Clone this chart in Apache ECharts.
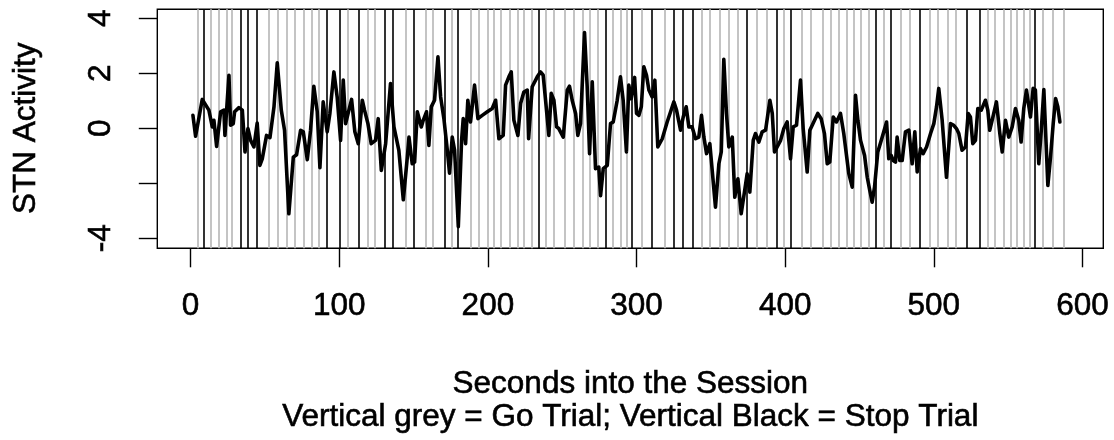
<!DOCTYPE html>
<html>
<head>
<meta charset="utf-8">
<script src="https://cdn.jsdelivr.net/npm/echarts@6/dist/echarts.min.js"></script>
<style>
html,body{margin:0;padding:0;background:#fff;}
#chart{width:1114px;height:440px;}
</style>
</head>
<body>
<div id="chart"></div>
<script>
// ---- data ----
const seconds = [
1.57,3.36,7.85,12.3,14.6,15.7,17.5,20.2,22.4,23.1,25.8,26.9,28.7,29.6,32.5,34.8,36.6,38.6,40.4,42.6,
44.8,46.6,48.2,51.1,53.4,56.1,58.3,61.0,63.2,66.1,69.1,71.3,74.0,75.8,78.5,80.7,82.9,85.2,87.0,89.2,
91.9,93.7,96.4,98.6,100.9,102.7,104.3,106.5,108.3,110.5,112.8,115.5,117.0,119.3,121.5,124.4,126.2,128.3,131.2,134.5,
136.8,140.1,143.1,145.8,146.9,149.1,150.7,152.5,155.2,156.5,158.7,160.3,161.9,164.1,166.4,168.2,170.4,172.7,174.2,176.0,
177.6,180.1,182.3,183.4,185.0,186.5,188.3,191.0,193.3,196.2,199.6,202.9,205.2,207.4,210.3,211.9,214.1,215.7,217.5,220.2,
222.0,224.2,226.5,227.4,229.8,233.2,235.4,237.2,238.8,241.0,242.6,244.4,246.2,247.7,250.7,253.4,254.9,256.7,259.0,260.5,
262.3,265.0,266.8,268.4,270.2,272.4,274.6,275.8,277.6,280.3,282.5,284.3,287.0,289.2,291.0,293.2,
294.8,296.4,298.7,300.0,301.6,303.2,304.9,306.7,308.3,310.5,312.3,314.3,317.3,320.6,322.9,325.1,326.9,329.6,331.4,333.4,
335.2,337.4,339.7,341.9,343.7,345.3,347.1,349.3,353.1,355.4,357.0,358.7,360.5,362.1,364.4,366.1,368.2,370.4,372.6,374.4,
376.2,378.5,380.0,382.3,384.5,386.8,389.7,391.3,392.8,394.6,396.9,399.1,401.3,403.6,405.4,407.6,410.3,412.1,414.8,416.6,
419.2,421.9,424.2,426.4,428.3,430.0,432.3,434.5,437.2,439.4,442.8,445.1,447.3,
448.9,450.7,453.4,455.2,456.9,458.5,460.1,462.3,464.6,466.3,468.2,469.7,471.3,472.7,474.2,475.3,477.1,478.7,480.9,483.2,
485.4,487.2,488.8,491.0,492.8,495.1,497.8,500.0,501.8,503.3,505.6,508.5,511.2,513.4,515.2,516.8,519.0,521.3,523.1,524.6,
526.2,528.0,529.6,531.9,534.7,536.3,537.6,539.2,542.1,544.4,546.0,548.2,550.4,552.7,554.9,557.1,558.7,560.5,562.3,565.0,
566.8,568.3,570.6,572.2,574.0,576.7,578.5,580.3,581.9,583.4,584.8
];
const activity = [
0.47,-0.29,1.05,0.66,0.05,0.29,-0.66,0.60,0.66,-0.26,1.93,0.11,0.17,0.60,0.75,0.66,-0.86,-0.01,-0.44,-0.68,
0.19,-1.35,-1.11,-0.26,-0.34,0.78,2.38,0.66,-0.07,-3.11,-1.05,-0.96,-0.07,-0.13,-1.14,-0.07,1.53,0.60,-1.43,0.96,
-0.13,0.54,2.05,1.14,-0.44,1.75,0.17,0.66,1.05,-0.13,-0.56,1.02,0.66,0.17,-0.56,-0.44,0.35,-1.53,-0.56,1.63,
0.05,-0.80,-2.60,-1.05,-0.32,-1.29,-1.23,0.60,0.05,0.29,0.60,-0.62,0.78,1.02,2.60,1.14,0.35,-0.80,-1.63,-0.32,
-0.80,-3.58,-0.44,0.35,-0.56,1.02,0.23,1.57,0.35,0.47,0.60,0.72,1.02,-0.38,-0.26,1.57,1.87,2.05,0.29,-0.26,
0.90,1.32,1.39,-0.38,1.51,1.87,2.05,1.93,1.02,-0.26,1.27,1.02,0.05,-0.01,-0.32,1.39,1.53,1.02,0.54,-0.26,
0.17,3.48,1.51,-0.92,1.69,-1.47,-1.41,-2.45,-1.47,-1.35,0.17,0.23,1.02,1.87,1.02,-0.86,
1.57,1.08,1.85,0.54,0.47,0.78,2.24,1.93,1.39,1.14,1.75,-0.68,-0.38,0.23,0.60,0.96,0.66,-0.07,0.41,0.78,
0.05,0.05,-0.38,-0.32,0.47,-0.32,-0.92,-0.56,-2.87,-1.29,-0.86,2.51,0.54,-0.68,-0.32,-2.51,-1.84,-3.11,-2.32,-1.65,
-2.32,-0.44,-0.19,-0.50,-0.13,-0.07,1.02,0.54,-0.86,-0.68,-0.44,-0.01,0.23,-1.11,0.05,0.11,1.75,-0.01,-1.59,-0.07,
0.23,0.54,0.35,-0.19,-1.29,-1.23,0.41,0.23,0.54,-0.19,-1.65,-2.14,1.20,
0.29,-0.44,-0.99,-1.78,-2.26,-2.69,-2.14,-0.86,-0.44,-0.13,0.23,-1.11,-0.99,-1.17,-1.23,-0.32,-1.17,-1.17,-0.13,-0.07,
-1.29,-0.13,-1.59,-0.74,-0.92,-0.68,-0.19,0.17,0.78,1.45,0.29,-1.78,0.17,0.11,-0.01,-0.19,-0.80,-0.68,0.54,0.41,
-0.56,-0.44,0.72,0.66,1.02,0.66,-0.07,0.29,0.96,-0.19,-0.86,0.29,-0.32,0.05,0.72,0.29,-0.50,0.72,1.39,0.41,
1.45,1.39,-1.29,-0.13,1.41,-2.08,-1.05,0.17,1.08,0.78,0.23
];
// Go trials (grey) and Stop trials (black), seconds
const goTrials = [
4.5,13.5,19,24,28,52.7,58.7,64.6,70.2,76.2,81.2,86.1,105.4,118.9,123.8,144.6,158.1,163.2,176,188.3,
193.9,199.6,204,208.5,214.8,219.8,224.2,229.2,239,244,251.6,257.8,263.5,268.6,273.6,284.3,289.2,293.3,303.8,319,
343.7,349.3,355.8,362.1,368.1,380.7,387.9,399,411.4,417,425.5,430.9,436,441.7,446,450.7,456.2,466.3,478,483.8,
497.3,502.7,509.4,514.6,536.3,540.8,547,551.6,556,560.3,564.3,573.1,580.2,587.2
];
const stopTrials = [
8.9,33.6,38.5,44.4,91.5,100.2,112.8,130.5,136,150.2,171,180,233.9,279.1,296.6,310.5,325,331.1,337.9,374,
394,404,461.2,471.3,490.4,521.9,530.9,568
];
const xTicks = [0,100,200,300,400,500,600];
const yTicks = [-4,-2,0,2,4];
const yTickLabels = [-4,0,2,4];

const FONT = "'Liberation Sans', Arial, Helvetica, sans-serif";
const FS = 31.5;
const TB = 0.6; // slight text stroke to match heavier rendering

const chart = echarts.init(document.getElementById('chart'), null, {renderer:'canvas'});
chart.setOption({
  animation: false,
  backgroundColor: '#ffffff',
  grid: {
    left: 157.3, top: 9.3, right: 10.7, bottom: 191.7,
    show: true, borderColor: '#000', borderWidth: 1.4, backgroundColor: 'transparent'
  },
  xAxis: {
    type: 'value', min: -22.4, max: 614,
    axisLine: {show: false, onZero: false},
    splitLine: {show: false},
    axisTick: {show: true, customValues: xTicks, length: 19, lineStyle: {color: '#000', width: 1.4}},
    axisLabel: {customValues: xTicks, fontSize: FS, fontFamily: FONT, color: '#000', margin: 42,
                textBorderColor: '#000', textBorderWidth: TB}
  },
  yAxis: {
    type: 'value', min: -4.364, max: 4.327,
    axisLine: {show: false, onZero: false},
    splitLine: {show: false},
    axisTick: {show: true, customValues: yTicks, length: 18.5, lineStyle: {color: '#000', width: 1.4}},
    axisLabel: {customValues: yTickLabels, rotate: 90, fontSize: FS, fontFamily: FONT, color: '#000', margin: 40,
                textBorderColor: '#000', textBorderWidth: TB}
  },
  series: [
    {
      type: 'line', data: [], silent: true,
      markLine: {
        silent: true, symbol: ['none','none'], label: {show: false},
        lineStyle: {color: '#bebebe', width: 1.8, type: 'solid'},
        data: goTrials.map(v => ({xAxis: v}))
      }
    },
    {
      type: 'line', data: [], silent: true,
      markLine: {
        silent: true, symbol: ['none','none'], label: {show: false},
        lineStyle: {color: '#000', width: 1.6, type: 'solid'},
        data: stopTrials.map(v => ({xAxis: v}))
      }
    },
    {
      type: 'line', silent: true, showSymbol: false, symbol: 'none',
      lineStyle: {color: '#000', width: 3.6, join: 'round', cap: 'round'},
      data: seconds.map((s, i) => [s, activity[i]]),
      z: 5
    }
  ],
  graphic: [
    {type: 'text', x: 26, y: 128.3, rotation: Math.PI / 2,
     style: {text: 'STN Activity', fontSize: FS, fontFamily: FONT, fill: '#000', stroke: '#000', lineWidth: TB,
             align: 'center', verticalAlign: 'middle', textAlign: 'center', textVerticalAlign: 'middle'}},
    {type: 'text', x: 630.3, y: 384,
     style: {text: 'Seconds into the Session', fontSize: FS, fontFamily: FONT, fill: '#000', stroke: '#000', lineWidth: TB,
             align: 'center', verticalAlign: 'middle', textAlign: 'center', textVerticalAlign: 'middle'}},
    {type: 'text', x: 630.3, y: 417.5,
     style: {text: 'Vertical grey = Go Trial; Vertical Black = Stop Trial', fontSize: FS, fontFamily: FONT, fill: '#000', stroke: '#000', lineWidth: TB,
             align: 'center', verticalAlign: 'middle', textAlign: 'center', textVerticalAlign: 'middle'}}
  ]
});
</script>
</body>
</html>
